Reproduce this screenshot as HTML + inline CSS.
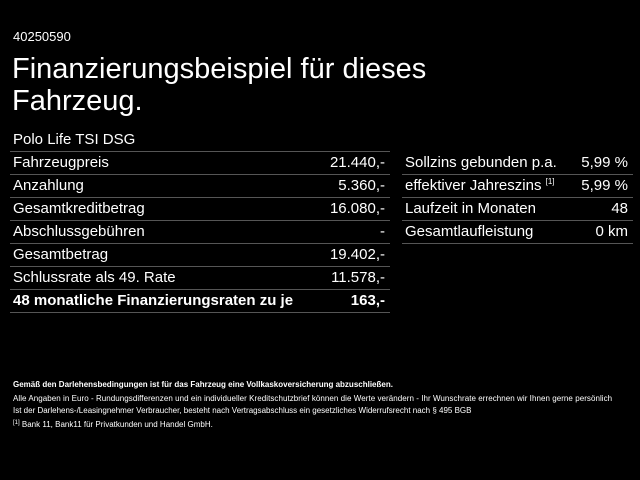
<!DOCTYPE html>
<html><head><meta charset="utf-8"><style>
body{margin:0;width:640px;height:480px;background:#000;color:#fff;font-family:"Liberation Sans",sans-serif;position:relative;overflow:hidden}
.a{position:absolute;white-space:nowrap}
.row{position:absolute;height:22px;border-bottom:1px solid #555;font-size:15px;line-height:22px}
.row span.r{position:absolute;right:5px}
.row span.l{position:absolute;left:3px}
sup{line-height:0;vertical-align:0;position:relative;top:-6px}
.f{font-size:8px}
</style></head><body>
<div class="a" style="left:13px;top:29px;font-size:13px">40250590</div>
<div class="a" style="left:12px;top:53px;font-size:29px;line-height:32px">Finanzierungsbeispiel für dieses<br>Fahrzeug.</div>
<div class="row" style="left:10px;top:129px;width:380px"><span class="l">Polo Life TSI DSG</span></div>
<div class="row" style="left:10px;top:152px;width:380px"><span class="l">Fahrzeugpreis</span><span class="r">21.440,-</span></div>
<div class="row" style="left:10px;top:175px;width:380px"><span class="l">Anzahlung</span><span class="r">5.360,-</span></div>
<div class="row" style="left:10px;top:198px;width:380px"><span class="l">Gesamtkreditbetrag</span><span class="r">16.080,-</span></div>
<div class="row" style="left:10px;top:221px;width:380px"><span class="l">Abschlussgebühren</span><span class="r">-</span></div>
<div class="row" style="left:10px;top:244px;width:380px"><span class="l">Gesamtbetrag</span><span class="r">19.402,-</span></div>
<div class="row" style="left:10px;top:267px;width:380px"><span class="l">Schlussrate als 49. Rate</span><span class="r">11.578,-</span></div>
<div class="row" style="left:10px;top:290px;width:380px;font-weight:bold"><span class="l">48 monatliche Finanzierungsraten zu je</span><span class="r">163,-</span></div>
<div class="row" style="left:402px;top:152px;width:231px"><span class="l">Sollzins gebunden p.a.</span><span class="r">5,99 %</span></div>
<div class="row" style="left:402px;top:175px;width:231px"><span class="l">effektiver Jahreszins <sup style="font-size:8px">[1]</sup></span><span class="r">5,99 %</span></div>
<div class="row" style="left:402px;top:198px;width:231px"><span class="l">Laufzeit in Monaten</span><span class="r">48</span></div>
<div class="row" style="left:402px;top:221px;width:231px"><span class="l">Gesamtlaufleistung</span><span class="r">0 km</span></div>
<div class="a f" style="left:13px;top:380px;font-weight:bold">Gemäß den Darlehensbedingungen ist für das Fahrzeug eine Vollkaskoversicherung abzuschließen.</div>
<div class="a f" style="left:13px;top:394px;letter-spacing:0.05px">Alle Angaben in Euro - Rundungsdifferenzen und ein individueller Kreditschutzbrief können die Werte verändern - Ihr Wunschrate errechnen wir Ihnen gerne persönlich</div>
<div class="a f" style="left:13px;top:406px">Ist der Darlehens-/Leasingnehmer Verbraucher, besteht nach Vertragsabschluss ein gesetzliches Widerrufsrecht nach § 495 BGB</div>
<div class="a f" style="left:13px;top:420px"><sup style="font-size:6px;top:-3px">[1]</sup> Bank 11, Bank11 für Privatkunden und Handel GmbH.</div>
</body></html>
